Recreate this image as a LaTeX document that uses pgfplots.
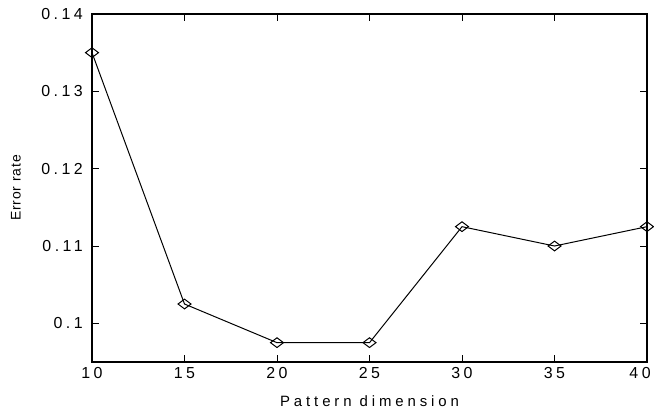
\documentclass[border=0pt]{standalone}
\usepackage{pgfplots}
\pgfplotsset{compat=1.18}
\usepackage{fontspec}
\setmainfont{Liberation Sans}
\newfontfamily\tickfont[LetterSpace=22]{Liberation Sans}
\newfontfamily\labfont[LetterSpace=26]{Liberation Sans}
\newfontfamily\ylabfont[LetterSpace=6]{Liberation Sans}
\begin{document}
\begin{tikzpicture}[x=1bp,y=1bp]
\useasboundingbox (0,0) rectangle (654,411);
\begin{axis}[
  at={(92bp,49bp)}, anchor=south west,
  scale only axis,
  width=555bp, height=348bp,
  xmin=10, xmax=40, ymin=0.095, ymax=0.14,
  xtick={10,15,...,40},
  xticklabels={10,15,20,25,30,35,{\kern-14bp 40}},
  ytick={0.1,0.11,0.12,0.13,0.14},
  yticklabels={0.1,0.11,0.12,0.13,0.14},
  tick align=inside,
  major tick length=7bp,
  axis line style={line width=1.6pt},
  every tick/.style={black, line width=1pt},
  xticklabel style={font=\tickfont\fontsize{16}{18}\selectfont, anchor=north, yshift=-5bp, inner sep=0pt},
  yticklabel style={font=\tickfont\fontsize{16}{18}\selectfont, anchor=east, xshift=-9bp, inner sep=0pt},
  /pgf/number format/assume math mode=true,
  xlabel={Pattern dimension},
  ylabel={Error rate},
  xlabel style={font=\labfont\fontsize{15}{17}\selectfont, at={(axis description cs:0.5,0)}, anchor=north, yshift=-30bp},
  ylabel style={font=\ylabfont\fontsize{14}{16}\selectfont, at={(axis description cs:0,0.5)}, anchor=center, yshift=76bp},
  clip=false,
]
\addplot[black, line width=1pt, mark=diamond, mark size=6.5bp, mark options={solid, rotate=90, fill=white, line width=1pt}]
coordinates {(10,0.135) (15,0.1025) (20,0.0975) (25,0.0975) (30,0.1125) (35,0.11) (40,0.1125)};
\end{axis}
\end{tikzpicture}
\end{document}
